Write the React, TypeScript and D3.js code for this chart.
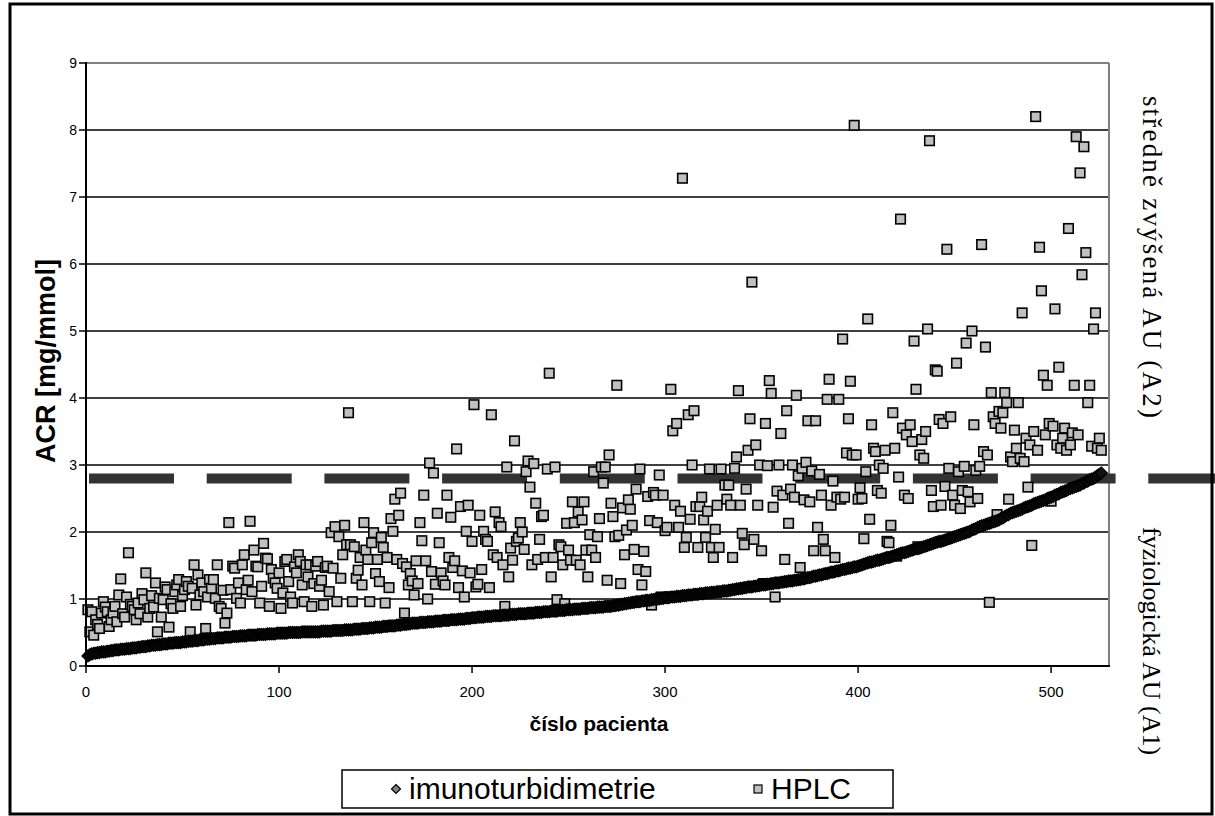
import React from "react";
import * as d3 from "d3";

// patient index runs 1..N
const immuno: number[] = [
  0.15,0.17,0.18,0.19,0.19,0.20,0.20,0.21,0.21,0.21,0.22,0.22,0.23,0.23,0.24,0.24,
  0.24,0.25,0.25,0.25,0.26,0.26,0.26,0.27,0.27,0.27,0.28,0.28,0.29,0.29,0.29,0.30,0.30,0.31,
  0.31,0.31,0.32,0.32,0.32,0.33,0.33,0.33,0.34,0.34,0.34,0.35,0.35,0.35,0.35,0.36,0.36,
  0.36,0.37,0.37,0.37,0.38,0.38,0.38,0.39,0.39,0.39,0.40,0.40,0.40,0.41,0.41,0.41,0.42,
  0.42,0.42,0.42,0.43,0.43,0.43,0.43,0.44,0.44,0.44,0.44,0.45,0.45,0.45,0.45,0.46,0.46,
  0.46,0.46,0.46,0.47,0.47,0.47,0.47,0.47,0.48,0.48,0.48,0.48,0.48,0.49,0.49,0.49,0.49,0.49,
  0.49,0.50,0.50,0.50,0.50,0.50,0.50,0.50,0.51,0.51,0.51,0.51,0.51,0.51,0.51,0.51,0.51,0.51,
  0.52,0.52,0.52,0.52,0.52,0.52,0.53,0.53,0.53,0.53,0.53,0.53,0.54,0.54,0.54,0.54,0.54,
  0.55,0.55,0.55,0.55,0.56,0.56,0.56,0.56,0.57,0.57,0.57,0.58,0.58,0.58,0.58,0.59,0.59,0.59,0.60,0.60,0.60,0.60,0.61,0.61,0.61,0.62,0.62,0.62,0.63,0.63,0.64,
  0.64,0.64,0.64,0.65,0.65,0.65,0.65,0.66,0.66,0.66,0.66,0.67,0.67,0.67,0.67,0.68,0.68,0.68,0.68,0.69,0.69,0.69,0.69,0.70,0.70,0.70,0.70,0.71,0.71,0.71,0.72,0.72,0.72,0.73,
  0.73,0.73,0.73,0.74,0.74,0.74,0.74,0.75,0.75,0.75,0.75,0.75,0.76,0.76,0.76,0.76,0.77,0.77,0.77,0.77,0.78,0.78,0.78,0.78,0.78,0.79,0.79,0.79,0.79,0.80,0.80,0.80,0.80,0.81,0.81,
  0.81,0.81,0.82,0.82,0.82,0.82,0.83,0.83,0.83,0.83,0.84,0.84,0.84,0.84,0.85,0.85,0.85,0.85,0.86,0.86,0.86,0.86,0.87,0.87,0.87,0.87,0.88,0.88,0.88,0.88,0.89,0.89,0.89,0.89,
  0.90,0.90,0.91,0.91,0.92,0.92,0.93,0.93,0.94,0.94,0.95,0.95,0.96,0.96,0.96,0.97,0.97,0.98,0.98,0.98,0.99,0.99,1.00,1.00,1.00,1.01,1.01,1.02,1.02,1.02,1.03,1.03,
  1.03,1.04,1.04,1.04,1.05,1.05,1.05,1.06,1.06,1.06,1.07,1.07,1.07,1.08,1.08,1.08,1.09,1.09,1.09,1.10,1.10,1.10,1.11,1.11,1.11,1.12,1.12,1.12,1.13,1.13,1.14,1.14,1.15,1.15,
  1.16,1.16,1.17,1.17,1.18,1.18,1.18,1.19,1.19,1.20,1.20,1.21,1.21,1.21,1.22,1.22,1.23,1.23,1.24,1.24,1.24,1.25,1.25,1.26,1.26,1.27,1.27,1.27,1.28,1.28,1.29,1.29,1.30,1.30,1.31,
  1.32,1.32,1.33,1.34,1.34,1.35,1.36,1.36,1.37,1.38,1.38,1.39,1.40,1.40,1.41,1.42,1.42,1.43,1.44,1.44,1.45,1.46,1.46,1.47,1.48,1.48,1.49,1.50,
  1.51,1.52,1.53,1.54,1.55,1.55,1.56,1.57,1.58,1.58,1.59,1.60,1.61,1.62,1.62,1.63,1.64,
  1.65,1.66,1.67,1.68,1.69,1.69,1.70,1.71,1.72,1.73,1.74,1.75,1.75,1.76,1.77,1.78,1.79,1.80,
  1.81,1.82,1.83,1.84,1.85,1.86,1.86,1.87,1.88,1.89,1.90,1.91,1.92,1.93,1.94,1.95,1.96,
  1.97,1.98,1.99,2.00,2.01,2.03,2.04,2.05,2.07,2.08,2.09,2.10,2.11,2.12,2.13,2.14,2.15,
  2.16,2.17,2.18,2.20,2.21,2.23,2.25,2.26,2.28,2.29,2.30,2.31,2.32,2.33,2.34,2.36,2.37,
  2.38,2.39,2.40,2.42,2.43,2.44,2.45,2.46,2.47,2.48,2.50,2.51,2.52,2.53,2.55,2.56,2.57,2.59,
  2.60,2.61,2.62,2.64,2.65,2.66,2.67,2.68,2.69,2.70,2.72,2.73,2.75,2.76,2.78,2.79,2.80,2.82,2.84,2.86,2.88,
];

const hplc: number[] = [
  0.84,0.51,0.81,0.46,0.69,0.62,0.56,0.79,0.96,0.88,
  0.81,0.59,0.69,0.79,0.89,0.66,1.06,1.30,0.78,0.73,
  1.03,1.69,0.92,0.89,0.84,0.69,0.94,0.78,1.08,0.99,
  1.39,0.73,0.86,1.05,0.88,1.24,0.51,1.01,0.73,0.99,
  1.18,1.14,0.58,0.93,0.86,1.11,1.21,1.29,0.89,1.05,
  1.14,1.26,1.19,0.51,1.16,1.51,0.91,1.36,1.06,1.24,
  1.11,0.56,1.03,1.29,1.16,1.29,1.01,1.51,0.89,0.86,
  1.13,0.64,0.79,2.14,1.14,1.49,1.46,1.01,1.24,0.94,
  1.51,1.66,1.14,1.28,2.16,1.11,1.73,1.49,1.48,0.94,
  1.19,1.83,1.61,1.60,0.89,1.44,1.31,1.24,1.16,1.39,
  0.86,1.09,1.56,1.59,1.26,1.03,0.94,1.48,1.39,1.66,
  1.56,1.21,0.96,1.51,1.33,1.51,0.89,1.23,1.49,1.56,
  1.19,1.28,0.91,1.47,1.49,1.11,1.99,1.46,2.08,0.96,
  1.93,1.31,1.66,2.10,1.81,3.78,1.81,0.96,1.78,1.31,
  1.43,1.62,1.21,2.14,1.73,1.59,0.96,1.84,1.99,1.38,
  1.59,1.26,1.92,1.77,0.94,1.62,1.17,2.20,2.01,2.49,
  1.59,2.25,2.58,1.53,0.79,1.48,1.21,1.38,1.27,1.06,
  1.57,1.23,2.14,1.87,2.55,1.57,1.00,3.03,1.41,2.88,
  1.22,2.28,1.84,1.39,1.27,1.21,2.55,1.62,2.22,1.47,
  1.57,3.24,1.17,2.38,1.42,1.03,2.01,2.40,1.39,1.86,
  3.90,1.18,1.22,2.25,1.44,2.01,1.89,1.86,1.17,3.75,
  1.66,2.30,1.62,2.14,2.08,1.51,0.89,2.97,1.33,1.76,
  1.58,3.36,1.86,1.91,2.14,2.00,1.74,2.90,3.06,2.67,
  1.51,3.02,2.43,1.59,1.89,2.23,2.25,1.62,2.94,4.37,
  1.33,1.62,2.97,0.99,1.81,1.78,1.51,0.93,2.13,1.73,
  1.58,2.45,2.14,1.58,2.30,1.51,2.18,2.45,1.73,1.33,
  1.96,1.73,2.90,1.62,1.93,2.20,2.97,2.73,2.97,1.28,
  3.15,2.43,2.23,1.93,4.19,1.95,1.23,2.36,1.66,2.03,
  2.48,2.34,2.10,1.74,2.64,1.44,2.94,1.21,1.71,1.41,
  2.53,2.17,0.91,2.59,2.55,2.14,2.85,1.03,2.55,2.02,
  2.07,1.03,4.13,3.51,2.40,3.62,2.07,2.31,7.28,1.77,
  1.92,3.75,2.19,3.00,3.81,2.38,1.77,2.38,2.52,2.18,
  1.92,2.31,2.94,1.77,1.62,2.04,2.40,1.77,2.94,1.11,
  2.70,2.49,2.70,2.40,1.62,2.95,3.12,4.11,2.40,1.98,
  1.81,2.64,3.22,3.69,5.73,1.89,3.30,2.40,3.00,1.72,
  1.23,3.62,2.99,4.26,4.07,2.37,1.03,2.61,3.00,3.47,
  2.55,1.59,3.81,2.13,2.64,3.00,2.52,4.04,2.84,1.47,
  2.95,2.48,3.04,3.66,2.45,2.91,1.72,3.66,2.07,2.86,
  2.55,1.89,1.72,3.98,4.28,2.40,2.76,1.62,2.52,3.98,
  2.49,4.88,2.52,3.18,3.69,4.25,3.15,8.07,3.15,2.49,
  2.66,2.50,1.90,2.90,5.18,2.19,3.60,3.25,3.20,2.62,
  3.00,2.58,2.95,3.22,1.86,1.84,2.10,3.78,3.25,1.64,
  2.82,6.67,3.55,2.55,3.45,2.50,3.60,3.35,4.85,4.13,
  1.78,3.15,3.38,3.10,3.50,5.03,7.84,2.62,2.38,4.42,
  4.40,3.68,2.40,3.62,2.68,6.22,2.95,3.72,2.55,2.40,
  4.52,2.90,2.35,2.62,2.98,4.82,2.60,2.45,5.00,3.60,
  2.92,2.50,2.98,6.29,3.20,4.76,3.15,0.95,4.08,3.72,
  3.62,2.26,3.80,3.55,3.78,4.08,3.93,2.49,3.12,3.05,
  3.52,3.25,3.93,3.10,5.27,3.05,3.40,2.67,3.30,1.80,
  3.50,8.20,3.22,6.25,5.60,4.34,3.45,4.19,3.62,2.46,
  3.58,5.33,3.30,4.46,3.25,3.40,3.55,3.22,6.53,3.30,
  3.48,4.19,7.90,3.45,7.36,5.84,7.75,6.17,3.93,4.19,
  3.28,5.03,5.27,3.25,3.40,3.22,
];

const yTicks = [0, 1, 2, 3, 4, 5, 6, 7, 8, 9];
const xTicks = [0, 100, 200, 300, 400, 500];
const threshold = 2.8;
const seriesNames = ["imunoturbidimetrie", "HPLC"];
const yTitle = "ACR [mg/mmol]";
const xTitle = "číslo pacienta";
const zoneHigh = "středně zvýšená AU (A2)";
const zoneLow = "fyziologická AU (A1)";

const W = 1215;
const H = 816;
const L = 86, R = 1109, T = 63, B = 666;

export default function App() {
  const x = d3.scaleLinear().domain([0, 530]).range([L, R]);
  const y = d3.scaleLinear().domain([0, 9]).range([B, T]);
  const sans = "'Liberation Sans', Arial, sans-serif";
  const serif = "'Liberation Serif', 'Times New Roman', serif";
  const dS = 6; // diamond half-size
  const sq = 9.5;
  const diamond = (cx: number, cy: number, s: number) =>
    `M${cx},${cy - s}L${cx + s},${cy}L${cx},${cy + s}L${cx - s},${cy}Z`;

  return (
    <svg width={W} height={H} style={{ position: "absolute", left: 0, top: 0, background: "#fff" }}
      xmlns="http://www.w3.org/2000/svg">
      <rect x={0} y={0} width={W} height={H} fill="#fff" />
      {/* gridlines */}
      {yTicks.filter((t) => t > 0 && t < 9).map((t) => (
        <line key={t} x1={L} x2={R} y1={y(t)} y2={y(t)} stroke="#000" strokeWidth={1.5} />
      ))}
      <line x1={L} x2={R} y1={y(9)} y2={y(9)} stroke="#808080" strokeWidth={2} />
      <line x1={R} x2={R} y1={T} y2={B} stroke="#808080" strokeWidth={2} />
      {/* threshold dashed line */}
      <line x1={89} x2={W} y1={y(threshold)} y2={y(threshold)} stroke="#333" strokeWidth={10}
        strokeDasharray="85 32.7" />
      {/* HPLC squares */}
      {hplc.map((v, i) => (
        <rect key={"h" + i} x={x(i + 1) - sq / 2} y={y(v) - sq / 2} width={sq} height={sq}
          fill="#c0c0c0" stroke="#000" strokeWidth={1.6} />
      ))}
      {/* immuno diamonds */}
      {immuno.map((v, i) => (
        <path key={"d" + i} d={diamond(x(i + 1), y(v), dS)} fill="#111" stroke="#000" strokeWidth={1.2} />
      ))}
      {/* axes */}
      <line x1={L} x2={L} y1={T - 1} y2={B + 1} stroke="#000" strokeWidth={2} />
      <line x1={L - 1} x2={R + 1} y1={B} y2={B} stroke="#000" strokeWidth={2} />
      {yTicks.map((t) => (
        <g key={"yt" + t}>
          <line x1={L - 7} x2={L} y1={y(t)} y2={y(t)} stroke="#000" strokeWidth={1.5} />
          <text x={77} y={y(t)} dy="0.36em" textAnchor="end" fontFamily={sans} fontSize={14}>{t}</text>
        </g>
      ))}
      {xTicks.map((t) => (
        <g key={"xt" + t}>
          <line x1={x(t)} x2={x(t)} y1={B} y2={B + 7} stroke="#000" strokeWidth={1.5} />
          <text x={x(t)} y={697} textAnchor="middle" fontFamily={sans} fontSize={15}>{t}</text>
        </g>
      ))}
      <text transform={`translate(55,361) rotate(-90)`} textAnchor="middle" fontFamily={sans}
        fontWeight="bold" fontSize={27}>{yTitle}</text>
      <text x={599} y={731} textAnchor="middle" fontFamily={sans} fontWeight="bold" fontSize={21}>{xTitle}</text>
      {/* right zone labels */}
      <text transform={`translate(1143,258) rotate(90)`} textAnchor="middle" fontFamily={serif}
        fontSize={27} letterSpacing={2.2}>{zoneHigh}</text>
      <text transform={`translate(1143,641) rotate(90)`} textAnchor="middle" fontFamily={serif}
        fontSize={26}>{zoneLow}</text>
      {/* legend */}
      <rect x={342} y={770} width={551} height={38} fill="#fff" stroke="#000" strokeWidth={1.5} />
      <path d={diamond(396, 789, 4.5)} fill="#808080" stroke="#000" strokeWidth={1.2} />
      <text x={409} y={799} fontFamily={sans} fontSize={30}>{seriesNames[0]}</text>
      <rect x={754} y={785} width={8} height={8} fill="#c0c0c0" stroke="#000" strokeWidth={1.2} />
      <text x={771} y={799} fontFamily={sans} fontSize={30}>{seriesNames[1]}</text>
      {/* outer frame */}
      <rect x={10} y={4} width={1202} height={810} fill="none" stroke="#000" strokeWidth={3} />
    </svg>
  );
}
